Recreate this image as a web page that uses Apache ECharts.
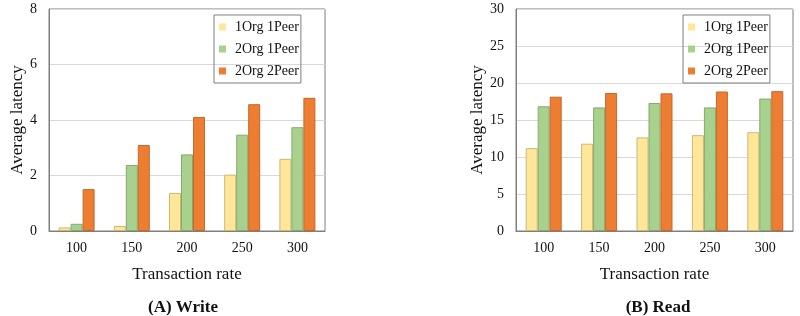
<!DOCTYPE html>
<html>
<head>
<meta charset="utf-8">
<script src="https://cdn.jsdelivr.net/npm/echarts@6/dist/echarts.min.js"></script>
<style>
  html, body { margin: 0; padding: 0; background: #fff; }
  #chart { width: 800px; height: 316px; }
</style>
</head>
<body>
<div id="chart"></div>
<script>
// 数据
var rates = ['100', '150', '200', '250', '300'];
var seriesNames = ['1Org 1Peer', '2Org 1Peer', '2Org 2Peer'];
var writeOrg1Peer1 = [0.13, 0.18, 1.37, 2.03, 2.6];
var writeOrg2Peer1 = [0.26, 2.38, 2.76, 3.47, 3.74];
var writeOrg2Peer2 = [1.51, 3.1, 4.11, 4.57, 4.8];
var readOrg1Peer1 = [11.2, 11.8, 12.65, 12.95, 13.35];
var readOrg2Peer1 = [16.85, 16.7, 17.3, 16.7, 17.9];
var readOrg2Peer2 = [18.15, 18.65, 18.6, 18.85, 18.9];

var colors = ['#FFE699', '#A9D18E', '#ED7D31'];
var borders = ['#cdb874', '#86a86c', '#c4682c'];
var font = 'Liberation Serif';

function mkAxisX(idx) {
    return {
        type: 'category',
        gridIndex: idx,
        data: rates,
        name: 'Transaction rate',
        nameLocation: 'middle',
        nameGap: 35,
        nameTextStyle: { fontFamily: font, fontSize: 17, color: '#111' },
        axisLine: { lineStyle: { color: '#7f7f7f' } },
        axisTick: { show: false },
        axisLabel: { fontFamily: font, fontSize: 14, color: '#111', margin: 10 }
    };
}

function mkAxisY(idx, max, interval) {
    return {
        type: 'value',
        gridIndex: idx,
        min: 0,
        max: max,
        interval: interval,
        name: 'Average latency',
        nameLocation: 'middle',
        nameGap: 23,
        nameTextStyle: { fontFamily: font, fontSize: 17, color: '#111' },
        axisLine: { show: true, lineStyle: { color: '#7f7f7f' } },
        axisTick: { show: false },
        axisLabel: { fontFamily: font, fontSize: 14, color: '#111', margin: 12 },
        splitLine: { lineStyle: { color: '#d9d9d9' } }
    };
}

function mkBar(i, idx, values) {
    return {
        name: seriesNames[i],
        type: 'bar',
        xAxisIndex: idx,
        yAxisIndex: idx,
        data: values,
        barWidth: 12,
        barGap: '0%',
        itemStyle: { color: colors[i], borderColor: borders[i], borderWidth: 1 }
    };
}

function mkLegend(left) {
    return {
        data: seriesNames,
        orient: 'vertical',
        left: left,
        top: 15,
        padding: [5, 2, 5, 5],
        itemWidth: 7,
        itemHeight: 7,
        itemGap: 8,
        borderColor: '#7f7f7f',
        borderWidth: 1,
        icon: 'rect',
        itemStyle: { borderWidth: 0 },
        textStyle: { fontFamily: font, fontSize: 14, color: '#111', padding: [0, 0, 0, 4] }
    };
}

var chart = echarts.init(document.getElementById('chart'));
var option = {
    backgroundColor: '#fff',
    animation: false,
    color: colors,
    title: [
        { text: '(A) Write', left: 178, top: 294, textAlign: 'center',
          textStyle: { fontFamily: font, fontSize: 17, fontWeight: 'bold', color: '#111' } },
        { text: '(B) Read', left: 653, top: 294, textAlign: 'center',
          textStyle: { fontFamily: font, fontSize: 17, fontWeight: 'bold', color: '#111' } }
    ],
    legend: [mkLegend(214), mkLegend(683)],
    grid: [
        { left: 49, right: 475, top: 9, bottom: 85, show: true, borderColor: '#7f7f7f', borderWidth: 1 },
        { left: 516, right: 7, top: 9, bottom: 85, show: true, borderColor: '#7f7f7f', borderWidth: 1 }
    ],
    xAxis: [mkAxisX(0), mkAxisX(1)],
    yAxis: [mkAxisY(0, 8, 2), mkAxisY(1, 30, 5)],
    series: [
        mkBar(0, 0, writeOrg1Peer1),
        mkBar(1, 0, writeOrg2Peer1),
        mkBar(2, 0, writeOrg2Peer2),
        mkBar(0, 1, readOrg1Peer1),
        mkBar(1, 1, readOrg2Peer1),
        mkBar(2, 1, readOrg2Peer2)
    ]
};
chart.setOption(option);
</script>
</body>
</html>
